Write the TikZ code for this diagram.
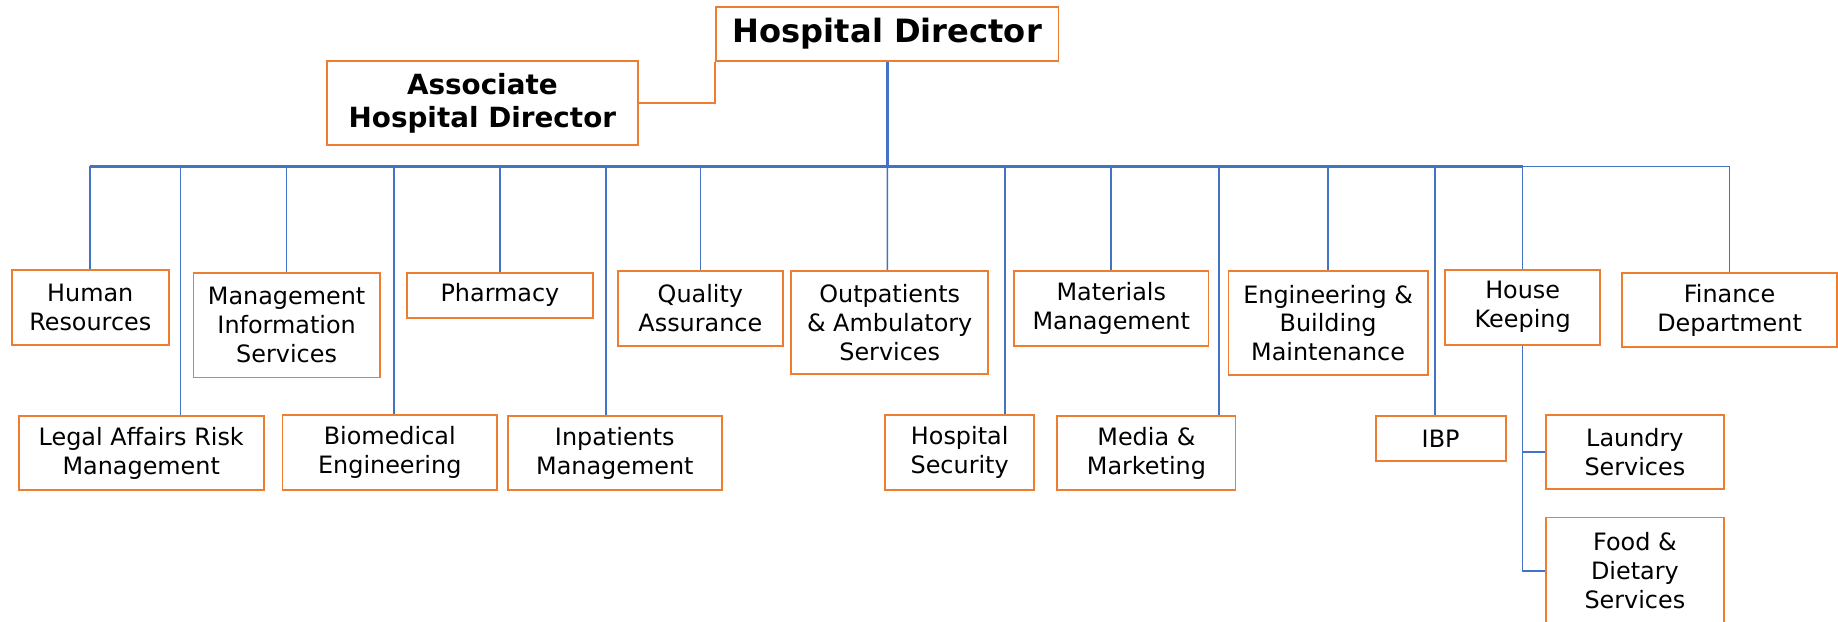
\documentclass[tikz,border=0pt]{standalone}
\usepackage{fontspec}
\setmainfont{DejaVu Sans}
\usepackage{tikz}
\definecolor{boxorange}{HTML}{ED7D31}
\definecolor{lineblue}{HTML}{4472C4}

\begin{document}
\begin{tikzpicture}[x=0.02cm, y=-0.02cm,
    dept/.style={draw=boxorange, line width=0.9pt, fill=white, align=center, inner sep=0pt,
        font=\fontsize{11.6}{14}\selectfont},
    head/.style={dept, font=\bfseries\fontsize{13.5}{16.3}\selectfont},
    link/.style={draw=lineblue, line width=0.75pt},
    trunk/.style={draw=lineblue, line width=1.2pt}]
            \useasboundingbox (0,0) rectangle (1568,529.8);
            \node[head, minimum width=5.84cm, minimum height=0.92cm, font=\bfseries\fontsize{15.6}{18}\selectfont] (hd) at (757,29) {Hospital Director};
            \node[head, minimum width=5.30cm, minimum height=1.44cm] (assoc) at (411.5,88) {Associate\\Hospital Director};
            \node[dept, minimum width=2.68cm, minimum height=1.28cm] (hr) at (77,262) {Human\\Resources};
            \node[dept, minimum width=4.18cm, minimum height=1.26cm] (legal) at (120.5,386.5) {Legal Affairs Risk\\Management};
            \node[dept, minimum width=3.18cm, minimum height=1.78cm] (mis) at (244.5,277.5) {Management\\Information\\Services};
            \node[dept, minimum width=3.66cm, minimum height=1.28cm] (bio) at (332.5,386) {Biomedical\\Engineering};
            \node[dept, minimum width=3.18cm, minimum height=0.76cm] (pharm) at (426.5,252) {Pharmacy};
            \node[dept, minimum width=3.66cm, minimum height=1.26cm] (inpat) at (524.5,386.5) {Inpatients\\Management};
            \node[dept, minimum width=2.82cm, minimum height=1.28cm] (qa) at (597.5,263) {Quality\\Assurance};
            \node[dept, minimum width=3.36cm, minimum height=1.76cm] (outpat) at (759,275) {Outpatients\\\& Ambulatory\\Services};
            \node[dept, minimum width=2.54cm, minimum height=1.28cm] (sec) at (818.7,386) {Hospital\\Security};
            \node[dept, minimum width=3.32cm, minimum height=1.28cm] (mat) at (948,263) {Materials\\Management};
            \node[dept, minimum width=3.04cm, minimum height=1.26cm] (media) at (978,386.5) {Media \&\\Marketing};
            \node[dept, minimum width=3.40cm, minimum height=1.78cm] (eng) at (1133,275.5) {Engineering \&\\Building\\Maintenance};
            \node[dept, minimum width=2.22cm, minimum height=0.76cm] (ibp) at (1229,374) {IBP};
            \node[dept, minimum width=2.64cm, minimum height=1.28cm] (hk) at (1299,262) {House\\Keeping};
            \node[dept, minimum width=3.66cm, minimum height=1.26cm] (fin) at (1475.5,264.5) {Finance\\Department};
            \node[dept, minimum width=3.04cm, minimum height=1.26cm] (laundry) at (1394.7,385.5) {Laundry\\Services};
            \node[dept, minimum width=3.04cm, minimum height=1.82cm] (food) at (1394.7,487) {Food \&\\Dietary\\Services};
            \coordinate (bus) at (757,142);
            \draw[draw=boxorange, line width=0.9pt] (assoc.east) -| (hd.south west);
            \draw[trunk] (hd.south) -- (bus);
            \draw[trunk] (hr.north |- bus) -- (hk.north |- bus);
            \draw[link] (fin.north) |- (hk.north |- bus);
            \draw[link] (hr.north) -- (hr.north |- bus);
            \draw[link] ([xshift=0.67cm]legal.north) -- ([xshift=0.67cm]legal.north |- bus);
            \draw[link] (mis.north) -- (mis.north |- bus);
            \draw[link] ([xshift=0.07cm]bio.north) -- ([xshift=0.07cm]bio.north |- bus);
            \draw[link] (pharm.north) -- (pharm.north |- bus);
            \draw[link] ([xshift=-0.15cm]inpat.north) -- ([xshift=-0.15cm]inpat.north |- bus);
            \draw[link] (qa.north) -- (qa.north |- bus);
            \draw[link] ([xshift=-0.04cm]outpat.north) -- (bus);
            \draw[link] ([xshift=0.77cm]sec.north) -- ([xshift=0.77cm]sec.north |- bus);
            \draw[link] (mat.north) -- (mat.north |- bus);
            \draw[link] ([xshift=1.24cm]media.north) -- ([xshift=1.24cm]media.north |- bus);
            \draw[link] (eng.north) -- (eng.north |- bus);
            \draw[link] ([xshift=-0.1cm]ibp.north) -- ([xshift=-0.1cm]ibp.north |- bus);
            \draw[link] (hk.north) -- (hk.north |- bus);
            \draw[link] (hk.south) |- (food.west);
            \draw[link] (hk.south |- laundry.west) -- (laundry.west);
        \end{tikzpicture}
\end{document}
